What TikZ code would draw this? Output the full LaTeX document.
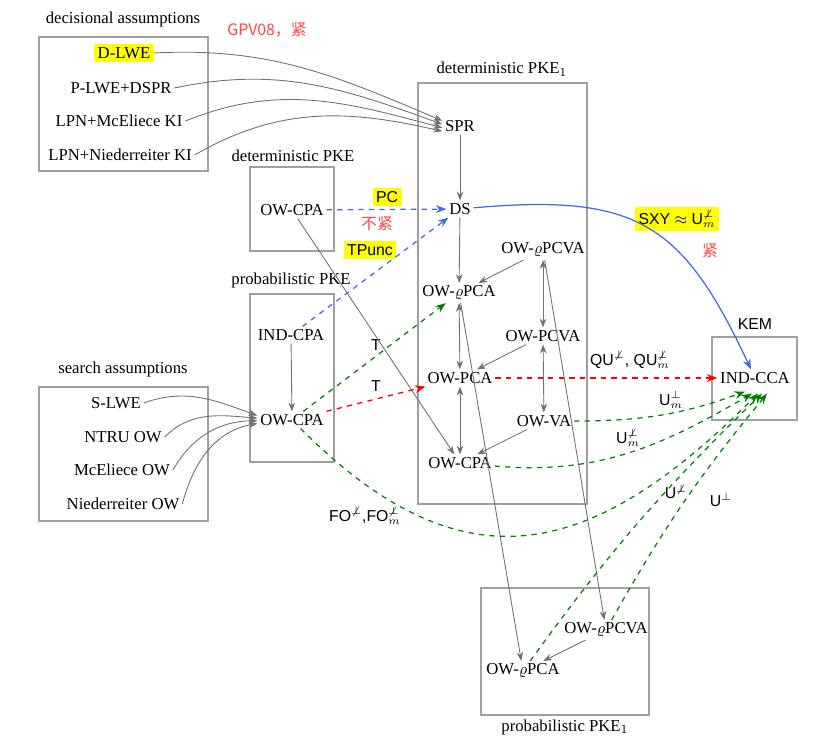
\documentclass[tikz,border=0pt]{standalone}
\usepackage{fontspec}
\usepackage{amssymb}
\usepackage{amsmath}
\usetikzlibrary{arrows.meta, positioning, calc}
\setmainfont{Liberation Serif}
\setsansfont{Liberation Sans}
\newfontfamily\cjkfont{Noto Sans CJK SC}
\definecolor{markyellow}{HTML}{FFFF00}
\definecolor{framegray}{HTML}{A0A0A0}
\definecolor{implgray}{HTML}{707070}
\definecolor{tightred}{HTML}{FF4545}
\definecolor{reductgreen}{HTML}{008000}
\definecolor{reductred}{HTML}{FF0000}
\definecolor{reductblue}{HTML}{4169E1}

\begin{document}
\begin{tikzpicture}[
  x=0.02cm, y=0.02cm,
  font=\fontsize{9.5}{11}\selectfont,
  frame/.style={draw=framegray, line width=0.6pt},
  term/.style={inner sep=1.5pt},
  marked/.style={fill=markyellow, inner sep=2pt},
  lab/.style={font=\sffamily\fontsize{9}{11}\selectfont, inner sep=1pt},
  zh/.style={font=\cjkfont\small, text=tightred},
  imp/.style={-{Stealth[length=5pt]}, implgray, line width=0.5pt},
  eqv/.style={{Stealth[length=5pt]}-{Stealth[length=5pt]}, implgray, line width=0.5pt},
  grn/.style={-{Stealth[length=6pt]}, dashed, reductgreen, line width=0.7pt},
  rdd/.style={-{Stealth[length=6pt]}, dashed, reductred, line width=0.7pt},
  bld/.style={-{Stealth[length=6pt]}, dashed, reductblue, line width=0.7pt},
  bls/.style={-{Stealth[length=6pt]}, reductblue, line width=0.7pt}
]
\useasboundingbox (0,0) rectangle (818,-743);

% boxes
\draw[frame] (39,-37) rectangle (208,-171);
\node at (123,-19) {decisional assumptions};
\draw[frame] (39,-387) rectangle (208,-521);
\node at (123,-369) {search assumptions};
\draw[frame] (250,-167) rectangle (334,-251);
\node at (293,-156) {deterministic PKE};
\draw[frame] (250,-294) rectangle (334,-462);
\node at (291,-280) {probabilistic PKE};
\draw[frame] (418,-83) rectangle (587,-504);
\node at (502,-69) {deterministic PKE$_1$};
\draw[frame] (481,-588) rectangle (649,-715);
\node at (565,-727) {probabilistic PKE$_1$};
\draw[frame] (712,-337) rectangle (797,-420);
\node[lab] at (755,-324) {KEM};

% assumptions
\node[term, marked] (dlwe) at (124,-53) {D-LWE};
\node[term] (plwe) at (121,-88) {P-LWE+DSPR};
\node[term] (mceki) at (119,-121) {LPN+McEliece KI};
\node[term] (niedki) at (120,-155) {LPN+Niederreiter KI};
\node[term] (slwe) at (116,-403) {S-LWE};
\node[term] (ntru) at (123,-437) {NTRU OW};
\node[term] (mceow) at (122,-470) {McEliece OW};
\node[term] (niedow) at (123,-504) {Niederreiter OW};

% PKE notions
\node[term] (docpa) at (292,-210) {OW-CPA};
\node[term] (indcpa) at (291,-335) {IND-CPA};
\node[term] (pocpa) at (292,-420) {OW-CPA};
\node[term] (spr) at (460,-126) {SPR};
\node[term] (ds) at (460,-209) {DS};
\node[term] (qpca) at (459,-293) {OW-$\varrho$PCA};
\node[term] (qpcva) at (543,-250) {OW-$\varrho$PCVA};
\node[term] (pcva) at (543,-336) {OW-PCVA};
\node[term] (pca) at (460,-378) {OW-PCA};
\node[term] (ova) at (544,-421) {OW-VA};
\node[term] (kocpa) at (460,-463) {OW-CPA};
\node[term] (bqpcva) at (606,-630) {OW-$\varrho$PCVA};
\node[term] (bqpca) at (523,-671) {OW-$\varrho$PCA};
\node[term] (indcca) at (755,-378) {IND-CCA};

% labels
\node[zh] (gpv) at (267,-30) {GPV08，紧};
\node[lab, marked] (pclab) at (387,-197) {PC};
\node[zh] (ntight) at (377,-224) {不紧};
\node[lab, marked] (tplab) at (370,-250) {TPunc};
\node[lab, marked] (sxylab) at (677,-219) {SXY $\approx$ U$^{\not\perp}_{m}$};
\node[zh] (tight) at (710,-251) {紧};
\node[lab] (tq) at (376,-345) {T};
\node[lab] (tp) at (376,-386) {T};
\node[lab] (qulab) at (630,-360) {QU$^{\not\perp}$, QU$^{\not\perp}_{m}$};
\node[lab] (umlab) at (671,-400) {U$^{\perp}_{m}$};
\node[lab] (unmlab) at (628,-438) {U$^{\not\perp}_{m}$};
\node[lab] (unlab) at (676,-492) {U$^{\not\perp}$};
\node[lab] (uplab) at (721,-500) {U$^{\perp}$};
\node[lab] (folab) at (365,-516) {FO$^{\not\perp}$,FO$^{\not\perp}_{m}$};

% assumptions -> PKE
\draw[imp] (dlwe.east) to[out=3, in=157] ([yshift=3pt]spr.west);
\draw[imp] (plwe.east) to[out=12, in=160] ([yshift=1pt]spr.west);
\draw[imp] (mceki.east) to[out=22, in=165] ([yshift=-1pt]spr.west);
\draw[imp] (niedki.east) to[out=30, in=167] ([yshift=-3pt]spr.west);
\draw[imp] (slwe.east) to[out=20, in=160] ([yshift=2.5pt]pocpa.west);
\draw[imp] (ntru.east) to[out=45, in=175] ([yshift=1pt]pocpa.west);
\draw[imp] (mceow.east) to[out=60, in=180] ([yshift=-0.5pt]pocpa.west);
\draw[imp] (niedow.east) to[out=75, in=190] ([yshift=-2pt]pocpa.west);

% inside PKE_1
\draw[imp] (spr) -- (ds);
\draw[imp] (ds) -- (qpca);
\draw[imp] (qpcva) -- (qpca);
\draw[imp] (pcva) -- (pca);
\draw[imp] (ova) -- (kocpa);
\draw[eqv] (qpca) -- (pca);
\draw[eqv] (pca) -- (kocpa);
\draw[eqv] (qpcva) -- (pcva);
\draw[eqv] (pcva) -- (ova);
\draw[imp] (indcpa) -- (pocpa);
\draw[imp] (docpa) -- (kocpa);
\draw[imp] (qpca) -- (bqpca);
\draw[imp] (qpcva) -- (bqpcva);
\draw[imp] (bqpcva) -- (bqpca);

% transforms
\draw[bld] (docpa) -- (ds);
\draw[bld] (indcpa) -- (ds);
\draw[bls] (ds) to[out=5, in=115, looseness=1.3] (indcca);
\draw[grn] (pocpa) -- (qpca);
\draw[rdd] (pocpa) -- (pca);
\draw[rdd] (pca) -- (indcca);
\draw[grn] (ova) to[out=0, in=200] ($(indcca.south)+(-10,-5)$);
\draw[grn] (kocpa) to[out=-5, in=210] ($(indcca.south)+(-3,-7)$);
\draw[grn] (pocpa) to[out=-45, in=225, looseness=1.3] ($(indcca.south)+(3,-7)$);
\draw[grn] (bqpca) to[bend left=5] ($(indcca.south)+(7,-7)$);
\draw[grn] (bqpcva) to[bend left=5] ($(indcca.south)+(12,-7)$);
\end{tikzpicture}
\end{document}
